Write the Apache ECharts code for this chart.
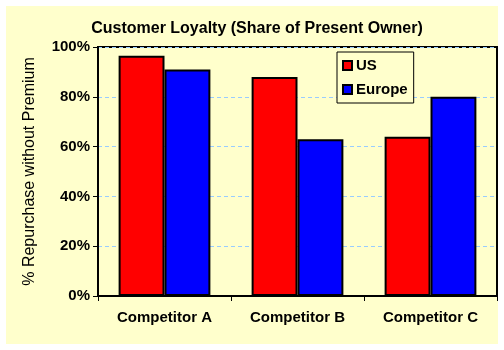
<!DOCTYPE html>
<html><head><meta charset="utf-8">
<script src="https://cdn.jsdelivr.net/npm/echarts@6/dist/echarts.min.js"></script>
<style>html,body{margin:0;padding:0;background:#fff;}#c{width:504px;height:350px;}</style>
</head><body><div id="c"></div>
<script>
const categories = ['Competitor A', 'Competitor B', 'Competitor C'];
const usValues = [96.5, 88, 64];
const europeValues = [91, 63, 80];
const yTicks = [0, 20, 40, 60, 80, 100];

const F = '"Liberation Sans", Arial, sans-serif';
const chart = echarts.init(document.getElementById('c'));
chart.setOption({
  backgroundColor: '#fff',
  animation: false,
  graphic: [{type: 'rect', z: -10, shape: {x: 6, y: 6, width: 492, height: 338}, style: {fill: '#FFFFCC'}}],
  title: {text: 'Customer Loyalty (Share of Present Owner)', left: 252, top: 16, textAlign: 'center',
    textStyle: {fontFamily: F, fontSize: 16, fontWeight: 'bold', color: '#000'}},
  legend: {orient: 'vertical', left: 337, top: 52, padding: [6, 6, 6, 5], itemGap: 9,
    itemWidth: 9, itemHeight: 9, borderColor: '#000', borderWidth: 1, backgroundColor: '#FFFFCC',
    textStyle: {fontFamily: F, fontSize: 15, fontWeight: 'bold', color: '#000', padding: [0,0,0,-1]},
    data: [{name: 'US', icon: 'rect'}, {name: 'Europe', icon: 'rect'}]},
  grid: {left: 98, right: 7, top: 47, bottom: 54, show: true, borderColor: '#000', borderWidth: 2, backgroundColor: 'transparent'},
  xAxis: {type: 'category', data: categories,
    axisLine: {lineStyle: {color: '#000', width: 2}},
    axisTick: {show: true, length: 5, lineStyle: {color: '#000', width: 1}},
    axisLabel: {fontFamily: F, fontSize: 15, fontWeight: 'bold', color: '#000', margin: 14}},
  yAxis: {type: 'value', min: 0, max: 100, interval: 20,
    name: '% Repurchase without Premium', nameLocation: 'middle', nameGap: 60,
    nameTextStyle: {fontFamily: F, fontSize: 16, color: '#000'},
    axisLine: {show: true, lineStyle: {color: '#000', width: 2}},
    axisTick: {show: true, length: 5, lineStyle: {color: '#000', width: 1}},
    axisLabel: {fontFamily: F, fontSize: 15, fontWeight: 'bold', color: '#000', margin: 8,
      formatter: v => yTicks.includes(v) ? v + '%' : ''},
    splitLine: {show: true, lineStyle: {color: '#99CCFF', type: [4, 3], width: 1}}},
  series: [
    {name: 'US', type: 'bar', data: usValues, barGap: '0%', barCategoryGap: '31%',
      itemStyle: {color: '#FF0000', borderColor: '#000', borderWidth: 2}},
    {name: 'Europe', type: 'bar', data: europeValues, barGap: '0%', barCategoryGap: '31%',
      itemStyle: {color: '#0000FF', borderColor: '#000', borderWidth: 2}}
  ]
});
</script></body></html>
